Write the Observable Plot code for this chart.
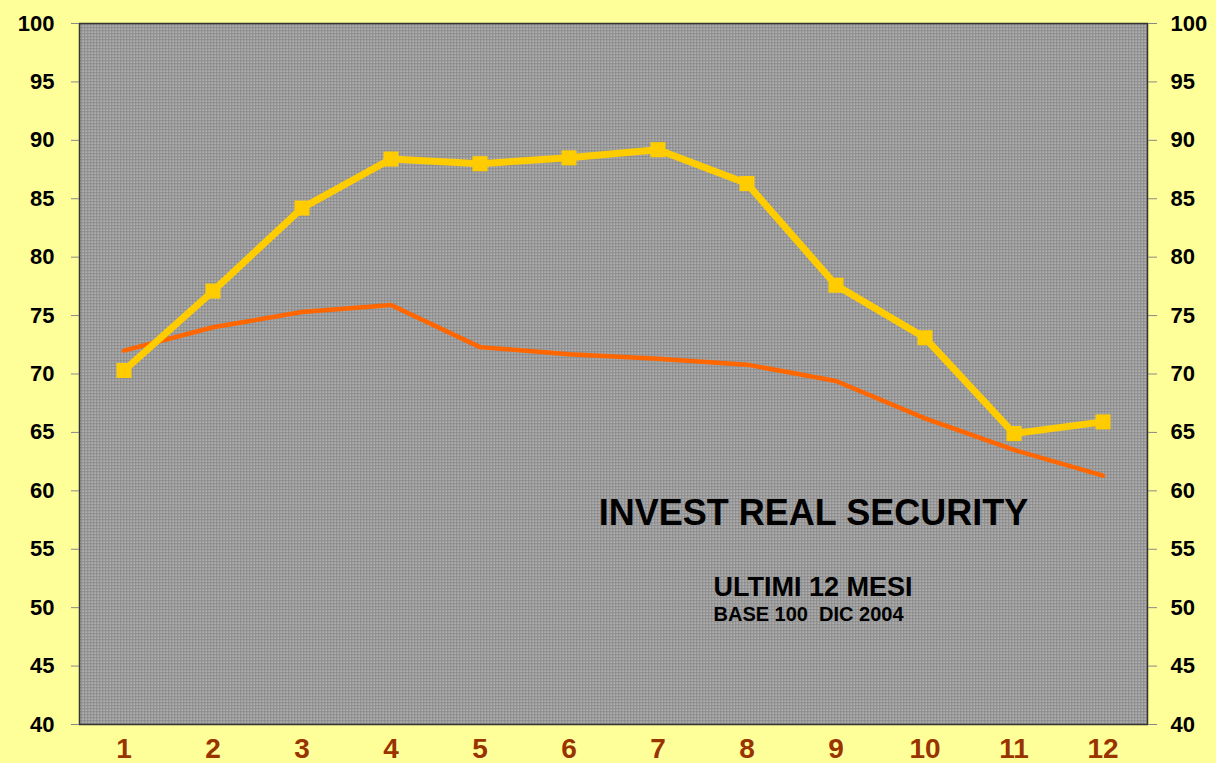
<!DOCTYPE html>
<html><head><meta charset="utf-8">
<script src="https://cdn.jsdelivr.net/npm/d3@7"></script>
<script src="https://cdn.jsdelivr.net/npm/@observablehq/plot@0.6"></script>
<style>
html,body{margin:0;padding:0;background:#FFFF99;}
#chart svg{display:block;}
</style></head>
<body><div id="chart"></div>
<script>
const months = [1,2,3,4,5,6,7,8,9,10,11,12];
const seriesYellow = [70.3,77.1,84.2,88.4,88.0,88.5,89.2,86.3,77.6,73.1,64.9,65.9];
const seriesOrange = [72.0,74.0,75.3,75.9,72.3,71.7,71.3,70.8,69.4,66.2,63.5,61.3];
const yTicks = [40,45,50,55,60,65,70,75,80,85,90,95,100];
const titleText = "INVEST REAL SECURITY";
const subText = "ULTIMI 12 MESI";
const baseText = "BASE 100  DIC 2004";

const yellow = months.map((m,i)=>({m, v: seriesYellow[i]}));
const orange = months.map((m,i)=>({m, v: seriesOrange[i]}));

const font = "Liberation Sans, Arial, sans-serif";
const chart = Plot.plot({
  width: 1216, height: 763,
  marginLeft: 79, marginRight: 69, marginTop: 23, marginBottom: 39,
  style: {background: "#FFFF99", fontFamily: font, overflow: "visible"},
  x: {type: "band", domain: months, padding: 0, label: null, axis: null},
  y: {domain: [40,100], ticks: yTicks, label: null},
  marks: [
    Plot.frame({fill: "url(#dotpat)", stroke: "#333", strokeWidth: 1.5}),
    Plot.axisY({anchor: "left", ticks: yTicks, tickSize: 8, tickFormat: () => "", stroke: "#888", label: null}),
    Plot.axisY({anchor: "right", ticks: yTicks, tickSize: 9, tickFormat: () => "", stroke: "#888", label: null}),
    Plot.text(yTicks, {y: d => d, frameAnchor: "left", dx: -25, textAnchor: "end", lineAnchor: "middle", fontSize: 22, fontWeight: "bold", fill: "#000"}),
    Plot.text(yTicks, {y: d => d, frameAnchor: "right", dx: 23, textAnchor: "start", lineAnchor: "middle", fontSize: 22, fontWeight: "bold", fill: "#000"}),
    Plot.text(months, {x: d => d, frameAnchor: "bottom", dy: 14, lineAnchor: "top", textAnchor: "middle", fontSize: 28, fontWeight: "bold", fill: "#993300"}),
    Plot.lineY(orange, {x: "m", y: "v", stroke: "#FF6600", strokeWidth: 4.5}),
    Plot.lineY(yellow, {x: "m", y: "v", stroke: "#FFCC00", strokeWidth: 7}),
    Plot.dot(yellow, {x: "m", y: "v", symbol: "square", r: 8.5, fill: "#FFCC00", stroke: null}),
    Plot.text([titleText], {frameAnchor: "top-left", dx: 734, dy: 490, lineAnchor: "middle", textAnchor: "middle", fontSize: 36, fontWeight: "bold", fill: "#000"}),
    Plot.text([subText], {frameAnchor: "top-left", dx: 634, dy: 564, lineAnchor: "middle", textAnchor: "start", fontSize: 27, fontWeight: "bold", fill: "#000"}),
    Plot.text([baseText], {frameAnchor: "top-left", dx: 634, dy: 591.5, lineAnchor: "middle", textAnchor: "start", fontSize: 20, fontWeight: "bold", fill: "#000"})
  ]
});
const ns = "http://www.w3.org/2000/svg";
const defs = document.createElementNS(ns, "defs");
defs.innerHTML = `<pattern id="dotpat" width="3" height="3" patternUnits="userSpaceOnUse">
  <rect width="3" height="3" fill="#8a8a8a"/>
  <rect x="1" y="1" width="1.3" height="1.3" fill="#e0e0e0"/>
</pattern>`;
chart.insertBefore(defs, chart.firstChild);
document.getElementById("chart").appendChild(chart);
</script></body></html>
